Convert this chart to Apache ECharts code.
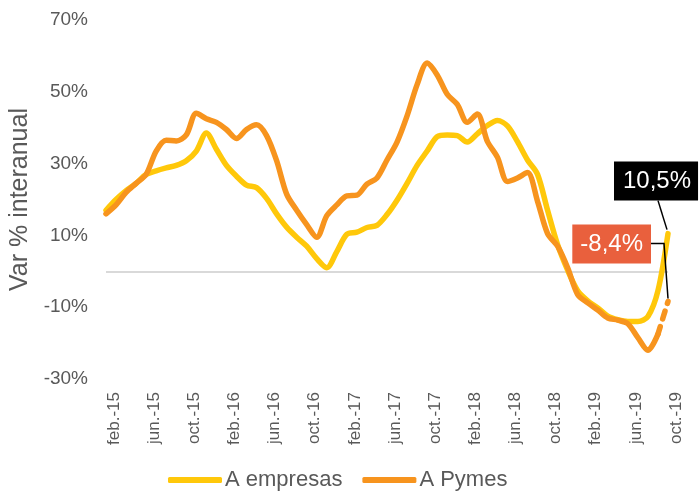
<!DOCTYPE html>
<html>
<head>
<meta charset="utf-8">
<script src="https://cdn.jsdelivr.net/npm/echarts@6/dist/echarts.min.js"></script>
<style>
html,body{margin:0;padding:0;background:#fff;}
#main{width:700px;height:500px;}
</style>
</head>
<body>
<div id="main"></div>
<script>
var months = ['feb.-15','mar.-15','abr.-15','may.-15','jun.-15','jul.-15','ago.-15','sep.-15','oct.-15','nov.-15','dic.-15',
	'ene.-16','feb.-16','mar.-16','abr.-16','may.-16','jun.-16','jul.-16','ago.-16','sep.-16','oct.-16','nov.-16','dic.-16',
	'ene.-17','feb.-17','mar.-17','abr.-17','may.-17','jun.-17','jul.-17','ago.-17','sep.-17','oct.-17','nov.-17','dic.-17',
	'ene.-18','feb.-18','mar.-18','abr.-18','may.-18','jun.-18','jul.-18','ago.-18','sep.-18','oct.-18','nov.-18','dic.-18',
	'ene.-19','feb.-19','mar.-19','abr.-19','may.-19','jun.-19','jul.-19','ago.-19','sep.-19','oct.-19'];

var empresas = [17,20,22.5,24.5,27,28,28.8,29.5,30.8,33.5,38.5,
	34,29.5,26.5,24,23.3,20.3,16,12.3,9.5,7,3.5,1,
	5.5,10.3,10.9,12.2,12.8,15.8,19.8,24.5,29.5,33.5,37.5,38,
	37.8,36,38.3,40.6,42,40.5,36.1,31,27,17,7.4,0.3,
	-5.4,-8.2,-10.2,-12.5,-13.5,-14,-14,-12.6,-5.4,10.5];

var pymes = [16,18.5,22,24.5,27,33.5,36.5,36.3,38,44,42.5,
	41.5,39.5,37,39.5,40.8,37.8,30.8,21.5,17,13,9.5,15.5,
	18.5,21,21.2,24.3,26,31,36,43.3,52,58,54.7,49.3,
	46.5,41.5,43.8,36.2,31.8,25,26,27.5,19.5,10.5,7,1,
	-6.5,-8.8,-10.8,-13,-13.6,-14.6,-18.5,-22,-17.5,-8.4];

var last = months.length - 1;
var dashFrom = last - 1; // ultimo tramo de Pymes en discontinua

var pymesSolid = pymes.map(function(v, i){ return i <= dashFrom ? v : null; });
var pymesDash = pymes.map(function(v, i){ return i >= dashFrom ? v : null; });

var yellow = '#FFC80A';
var orange = '#F7941E';
var grey = '#595959';
var font = '"Liberation Sans", Arial, sans-serif';

function pct(v){
	return v.toFixed(1).replace('.', ',') + '%';
}

var chart = echarts.init(document.getElementById('main'));
var option = {
	animation: false,
	textStyle: { fontFamily: font },
	grid: { left: 106, right: 32, top: 20, bottom: 121, outerBoundsMode: 'none', containLabel: false },
	legend: {
		data: ['A empresas', 'A Pymes'],
		bottom: 4,
		left: 163,
		icon: 'roundRect',
		itemWidth: 54,
		itemHeight: 6,
		itemGap: 20,
		textStyle: { color: grey, fontSize: 22, fontFamily: font, padding: [0,0,0,-2] }
	},
	xAxis: {
		type: 'category',
		boundaryGap: false,
		data: months,
		axisLine: { show: false },
		axisTick: { show: false },
		axisLabel: {
			interval: 3,
			rotate: 90,
			margin: 13,
			color: grey,
			fontSize: 17,
			fontFamily: font,
			verticalAlign: 'top',
			lineHeight: 16
		}
	},
	yAxis: {
		type: 'value',
		min: -30,
		max: 70,
		interval: 10,
		name: 'Var % interanual',
		nameLocation: 'middle',
		nameGap: 68,
		nameTextStyle: { color: grey, fontSize: 25, fontFamily: font },
		axisLine: { show: false },
		axisTick: { show: false },
		splitLine: { show: false },
		axisLabel: {
			color: grey,
			fontSize: 19,
			margin: 18,
			fontFamily: font,
			formatter: function(v){
				return ((v + 30) % 20 === 0) ? v + '%' : '';
			}
		}
	},
	series: [{
		name: 'A empresas',
		type: 'line',
		data: empresas,
		smooth: 0.3,
		showSymbol: false,
		silent: true,
		itemStyle: { color: yellow },
		lineStyle: { color: yellow, width: 5.5, cap: 'round' },
		markLine: {
			silent: true,
			symbol: 'none',
			label: { show: false },
			lineStyle: { color: '#D9D9D9', width: 2, type: 'solid' },
			data: [{ yAxis: 0 }],
			z: 1
		}
	}, {
		name: 'A Pymes',
		type: 'line',
		data: pymesSolid,
		smooth: 0.3,
		showSymbol: false,
		silent: true,
		itemStyle: { color: orange },
		lineStyle: { color: orange, width: 5.5, cap: 'round' }
	}, {
		name: 'A Pymes (ult.)',
		type: 'line',
		data: pymesDash,
		smooth: 0.3,
		showSymbol: false,
		silent: true,
		itemStyle: { color: orange },
		lineStyle: { color: orange, width: 5.5, type: [8, 8], cap: 'round' }
	}]
};
chart.setOption(option);

// etiquetas de los ultimos valores
var p1 = chart.convertToPixel({ gridIndex: 0 }, [last, empresas[last]]);
var p2 = chart.convertToPixel({ gridIndex: 0 }, [last, pymes[last]]);

chart.setOption({
	graphic: [{
		type: 'line',
		z: 100,
		shape: { x1: p1[0] - 10, y1: p1[1] - 33, x2: p1[0] - 1, y2: p1[1] - 4 },
		style: { stroke: '#000', lineWidth: 1.5 }
	}, {
		type: 'text',
		z: 101,
		x: p1[0] - 54,
		y: p1[1] - 72,
		style: {
			text: pct(empresas[last]),
			fill: '#fff',
			backgroundColor: '#000',
			padding: [8, 7, 7, 9],
			font: '24px ' + font,
			align: 'left',
			verticalAlign: 'top'
		}
	}, {
		type: 'polyline',
		z: 100,
		shape: { points: [[p2[0] - 17, p2[1] - 58], [p2[0] - 4, p2[1] - 58], [p2[0], p2[1] - 3]] },
		style: { stroke: '#000', lineWidth: 1.5, fill: null }
	}, {
		type: 'text',
		z: 101,
		x: p2[0] - 17,
		y: p2[1] - 77,
		style: {
			text: pct(pymes[last]),
			fill: '#fff',
			backgroundColor: '#E9603D',
			padding: [8, 8, 7, 8],
			font: '24px ' + font,
			align: 'right',
			verticalAlign: 'top'
		}
	}]
});
</script>
</body>
</html>
